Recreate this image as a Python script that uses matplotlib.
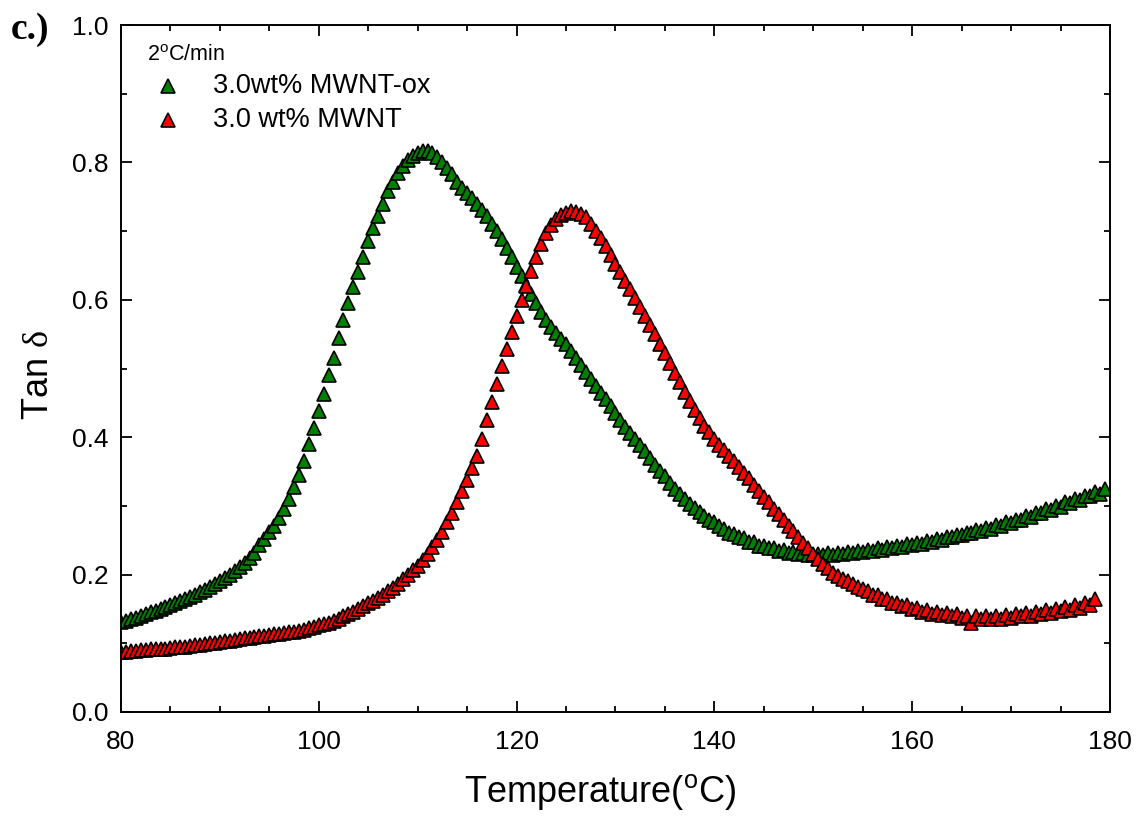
import matplotlib
matplotlib.use('Agg')
import matplotlib.pyplot as plt
from matplotlib.ticker import MultipleLocator, FormatStrFormatter

plt.rcParams['font.family'] = ['Liberation Sans', 'DejaVu Sans']
plt.rcParams['mathtext.fontset'] = 'custom'
plt.rcParams['mathtext.rm'] = 'Liberation Serif'
plt.rcParams['mathtext.sf'] = 'Liberation Sans'

# temperature grid (deg C)
temp_ox = [
    80.0, 80.5, 81.0, 81.5, 82.0, 82.5, 83.0, 83.5, 84.0, 84.5,
    85.0, 85.5, 86.0, 86.5, 87.0, 87.5, 88.0, 88.5, 89.0, 89.5,
    90.0, 90.5, 91.0, 91.5, 92.0, 92.5, 93.0, 93.5, 94.0, 94.5,
    95.0, 95.5, 96.0, 96.5, 97.0, 97.5, 98.0, 98.5, 99.0, 99.5,
    100.0, 100.5, 101.0, 101.5, 102.0, 102.5, 103.0, 103.5, 104.0, 104.5,
    105.0, 105.5, 106.0, 106.5, 107.0, 107.5, 108.0, 108.5, 109.0, 109.5,
    110.0, 110.5, 111.0, 111.5, 112.0, 112.5, 113.0, 113.5, 114.0, 114.5,
    115.0, 115.5, 116.0, 116.5, 117.0, 117.5, 118.0, 118.5, 119.0, 119.5,
    120.0, 120.5, 121.0, 121.5, 122.0, 122.5, 123.0, 123.5, 124.0, 124.5,
    125.0, 125.5, 126.0, 126.5, 127.0, 127.5, 128.0, 128.5, 129.0, 129.5,
    130.0, 130.5, 131.0, 131.5, 132.0, 132.5, 133.0, 133.5, 134.0, 134.5,
    135.0, 135.5, 136.0, 136.5, 137.0, 137.5, 138.0, 138.5, 139.0, 139.5,
    140.0, 140.5, 141.0, 141.5, 142.0, 142.5, 143.0, 143.5, 144.0, 144.5,
    145.0, 145.5, 146.0, 146.5, 147.0, 147.5, 148.0, 148.5, 149.0, 149.5,
    150.0, 150.5, 151.0, 151.5, 152.0, 152.5, 153.0, 153.5, 154.0, 154.5,
    155.0, 155.5, 156.0, 156.5, 157.0, 157.5, 158.0, 158.5, 159.0, 159.5,
    160.0, 160.5, 161.0, 161.5, 162.0, 162.5, 163.0, 163.5, 164.0, 164.5,
    165.0, 165.5, 166.0, 166.5, 167.0, 167.5, 168.0, 168.5, 169.0, 169.5,
    170.0, 170.5, 171.0, 171.5, 172.0, 172.5, 173.0, 173.5, 174.0, 174.5,
    175.0, 175.5, 176.0, 176.5, 177.0, 177.5, 178.0, 178.5, 179.0, 179.5,
]
tan_ox = [
    0.131, 0.133, 0.135, 0.137, 0.140, 0.142, 0.145, 0.147, 0.150, 0.153,
    0.156, 0.158, 0.161, 0.164, 0.168, 0.171, 0.174, 0.178, 0.182, 0.186,
    0.190, 0.195, 0.200, 0.205, 0.211, 0.217, 0.224, 0.232, 0.243, 0.252,
    0.262, 0.271, 0.283, 0.296, 0.310, 0.327, 0.345, 0.366, 0.390, 0.414,
    0.438, 0.463, 0.490, 0.516, 0.545, 0.570, 0.595, 0.618, 0.640, 0.663,
    0.685, 0.704, 0.722, 0.740, 0.758, 0.772, 0.785, 0.795, 0.803, 0.809,
    0.814, 0.817, 0.816, 0.813, 0.808, 0.801, 0.792, 0.783, 0.772, 0.763,
    0.755, 0.748, 0.740, 0.731, 0.722, 0.711, 0.700, 0.688, 0.675, 0.662,
    0.648, 0.635, 0.622, 0.608, 0.595, 0.582, 0.570, 0.560, 0.552, 0.543,
    0.535, 0.525, 0.515, 0.505, 0.495, 0.485, 0.475, 0.465, 0.455, 0.445,
    0.435, 0.425, 0.415, 0.406, 0.397, 0.388, 0.380, 0.370, 0.360, 0.351,
    0.343, 0.334, 0.325, 0.317, 0.310, 0.303, 0.297, 0.291, 0.285, 0.280,
    0.276, 0.270, 0.267, 0.261, 0.259, 0.254, 0.253, 0.248, 0.247, 0.242,
    0.242, 0.238, 0.239, 0.235, 0.236, 0.232, 0.233, 0.230, 0.231, 0.229,
    0.229, 0.230, 0.228, 0.231, 0.229, 0.232, 0.230, 0.233, 0.231, 0.234,
    0.233, 0.236, 0.234, 0.238, 0.236, 0.240, 0.238, 0.242, 0.240, 0.244,
    0.243, 0.246, 0.245, 0.249, 0.248, 0.252, 0.250, 0.255, 0.254, 0.258,
    0.257, 0.261, 0.260, 0.265, 0.263, 0.268, 0.267, 0.272, 0.271, 0.276,
    0.275, 0.280, 0.279, 0.285, 0.284, 0.290, 0.289, 0.295, 0.294, 0.300,
    0.299, 0.305, 0.304, 0.310, 0.309, 0.315, 0.314, 0.320, 0.318, 0.325,
]

temp_mwnt = [
    80.0, 80.5, 81.0, 81.5, 82.0, 82.5, 83.0, 83.5, 84.0, 84.5,
    85.0, 85.5, 86.0, 86.5, 87.0, 87.5, 88.0, 88.5, 89.0, 89.5,
    90.0, 90.5, 91.0, 91.5, 92.0, 92.5, 93.0, 93.5, 94.0, 94.5,
    95.0, 95.5, 96.0, 96.5, 97.0, 97.5, 98.0, 98.5, 99.0, 99.5,
    100.0, 100.5, 101.0, 101.5, 102.0, 102.5, 103.0, 103.5, 104.0, 104.5,
    105.0, 105.5, 106.0, 106.5, 107.0, 107.5, 108.0, 108.5, 109.0, 109.5,
    110.0, 110.5, 111.0, 111.5, 112.0, 112.5, 113.0, 113.5, 114.0, 114.5,
    115.0, 115.5, 116.0, 116.5, 117.0, 117.5, 118.0, 118.5, 119.0, 119.5,
    120.0, 120.5, 121.0, 121.5, 122.0, 122.5, 123.0, 123.5, 124.0, 124.5,
    125.0, 125.5, 126.0, 126.5, 127.0, 127.5, 128.0, 128.5, 129.0, 129.5,
    130.0, 130.5, 131.0, 131.5, 132.0, 132.5, 133.0, 133.5, 134.0, 134.5,
    135.0, 135.5, 136.0, 136.5, 137.0, 137.5, 138.0, 138.5, 139.0, 139.5,
    140.0, 140.5, 141.0, 141.5, 142.0, 142.5, 143.0, 143.5, 144.0, 144.5,
    145.0, 145.5, 146.0, 146.5, 147.0, 147.5, 148.0, 148.5, 149.0, 149.5,
    150.0, 150.5, 151.0, 151.5, 152.0, 152.5, 153.0, 153.5, 154.0, 154.5,
    155.0, 155.5, 156.0, 156.5, 157.0, 157.5, 158.0, 158.5, 159.0, 159.5,
    160.0, 160.5, 161.0, 161.5, 162.0, 162.5, 163.0, 163.5, 164.0, 164.5,
    165.0, 165.5, 166.0, 166.5, 167.0, 167.5, 168.0, 168.5, 169.0, 169.5,
    170.0, 170.5, 171.0, 171.5, 172.0, 172.5, 173.0, 173.5, 174.0, 174.5,
    175.0, 175.5, 176.0, 176.5, 177.0, 177.5, 178.0, 178.5,
]
tan_mwnt = [
    0.088, 0.088, 0.089, 0.089, 0.090, 0.090, 0.091, 0.091, 0.092, 0.092,
    0.093, 0.094, 0.095, 0.095, 0.096, 0.097, 0.098, 0.099, 0.100, 0.101,
    0.102, 0.103, 0.104, 0.105, 0.106, 0.107, 0.108, 0.109, 0.110, 0.111,
    0.112, 0.113, 0.114, 0.115, 0.116, 0.117, 0.118, 0.120, 0.122, 0.124,
    0.126, 0.128, 0.130, 0.133, 0.136, 0.139, 0.142, 0.146, 0.150, 0.154,
    0.158, 0.162, 0.166, 0.171, 0.176, 0.181, 0.187, 0.193, 0.199, 0.206,
    0.213, 0.221, 0.230, 0.240, 0.250, 0.262, 0.276, 0.290, 0.306, 0.322,
    0.338, 0.355, 0.372, 0.398, 0.425, 0.451, 0.478, 0.503, 0.528, 0.553,
    0.577, 0.599, 0.620, 0.642, 0.662, 0.681, 0.697, 0.709, 0.718, 0.723,
    0.727, 0.729, 0.728, 0.725, 0.720, 0.711, 0.700, 0.690, 0.678, 0.665,
    0.652, 0.640, 0.628, 0.616, 0.603, 0.590, 0.577, 0.564, 0.550, 0.536,
    0.522, 0.508, 0.494, 0.480, 0.466, 0.453, 0.440, 0.428, 0.417, 0.407,
    0.397, 0.389, 0.381, 0.373, 0.365, 0.357, 0.348, 0.340, 0.331, 0.322,
    0.313, 0.305, 0.296, 0.288, 0.279, 0.271, 0.263, 0.254, 0.246, 0.238,
    0.230, 0.222, 0.215, 0.209, 0.203, 0.198, 0.194, 0.190, 0.186, 0.182,
    0.179, 0.176, 0.171, 0.170, 0.164, 0.164, 0.159, 0.159, 0.154, 0.155,
    0.150, 0.151, 0.146, 0.148, 0.143, 0.146, 0.141, 0.144, 0.139, 0.142,
    0.137, 0.140, 0.129, 0.139, 0.135, 0.139, 0.136, 0.140, 0.136, 0.141,
    0.137, 0.142, 0.139, 0.144, 0.140, 0.146, 0.142, 0.148, 0.144, 0.150,
    0.147, 0.153, 0.149, 0.156, 0.152, 0.158, 0.156, 0.164,
]

labels = ['3.0wt% MWNT-ox', '3.0 wt% MWNT']
colors = ['#008000', '#ff0000']
rate_text = '2$^{\\mathsf{o}}$C/min'

fig = plt.figure(figsize=(11.39, 8.21), dpi=100)
ax = fig.add_axes([0.1062, 0.1328, 0.8683, 0.8367])

ms = 10.5
for tt, vv, c in [(temp_ox, tan_ox, colors[0]), (temp_mwnt, tan_mwnt, colors[1])]:
    ax.plot(tt, vv, linestyle='none', marker='^', ms=ms,
            mfc=c, mec='black', mew=1.2)

ax.set_xlim(80, 180)
ax.set_ylim(0.0, 1.0)
ax.xaxis.set_major_locator(MultipleLocator(20))
ax.xaxis.set_minor_locator(MultipleLocator(5))
ax.yaxis.set_major_locator(MultipleLocator(0.2))
ax.yaxis.set_minor_locator(MultipleLocator(0.1))
ax.yaxis.set_major_formatter(FormatStrFormatter('%.1f'))
ax.tick_params(which='both', direction='in', top=True, right=True,
               labelsize=19, width=1.3)
ax.tick_params(which='major', length=8)
ax.tick_params(which='minor', length=4.5)
ax.tick_params(axis='x', pad=13)
ax.tick_params(axis='y', pad=9)
for s in ax.spines.values():
    s.set_linewidth(1.4)

ax.set_xlabel('Temperature($^{\\mathsf{o}}$C)', fontsize=26)
ax.xaxis.set_label_coords(0.484, -0.087)
ax.set_ylabel('Tan $\\mathrm{\\delta}$', fontsize=26)
ax.yaxis.set_label_coords(-0.066, 0.49)

# legend drawn by hand, in axes coords
ax.text(0.026, 0.955, rate_text, transform=ax.transAxes, fontsize=15.5,
        ha='left', va='center')
for i, (lab, c) in enumerate(zip(labels, colors)):
    yy = 0.911 - i * 0.0495
    ax.plot([0.0475], [yy], transform=ax.transAxes, linestyle='none',
            marker='^', ms=ms, mfc=c, mec='black', mew=1.2, clip_on=False)
    ax.text(0.093, yy, lab, transform=ax.transAxes, fontsize=19.5,
            ha='left', va='center')

fig.text(0.009, 0.953, 'c.)', fontsize=27, fontweight='bold',
         family='Liberation Serif', va='baseline')

fig.savefig('out.png', dpi=100)
